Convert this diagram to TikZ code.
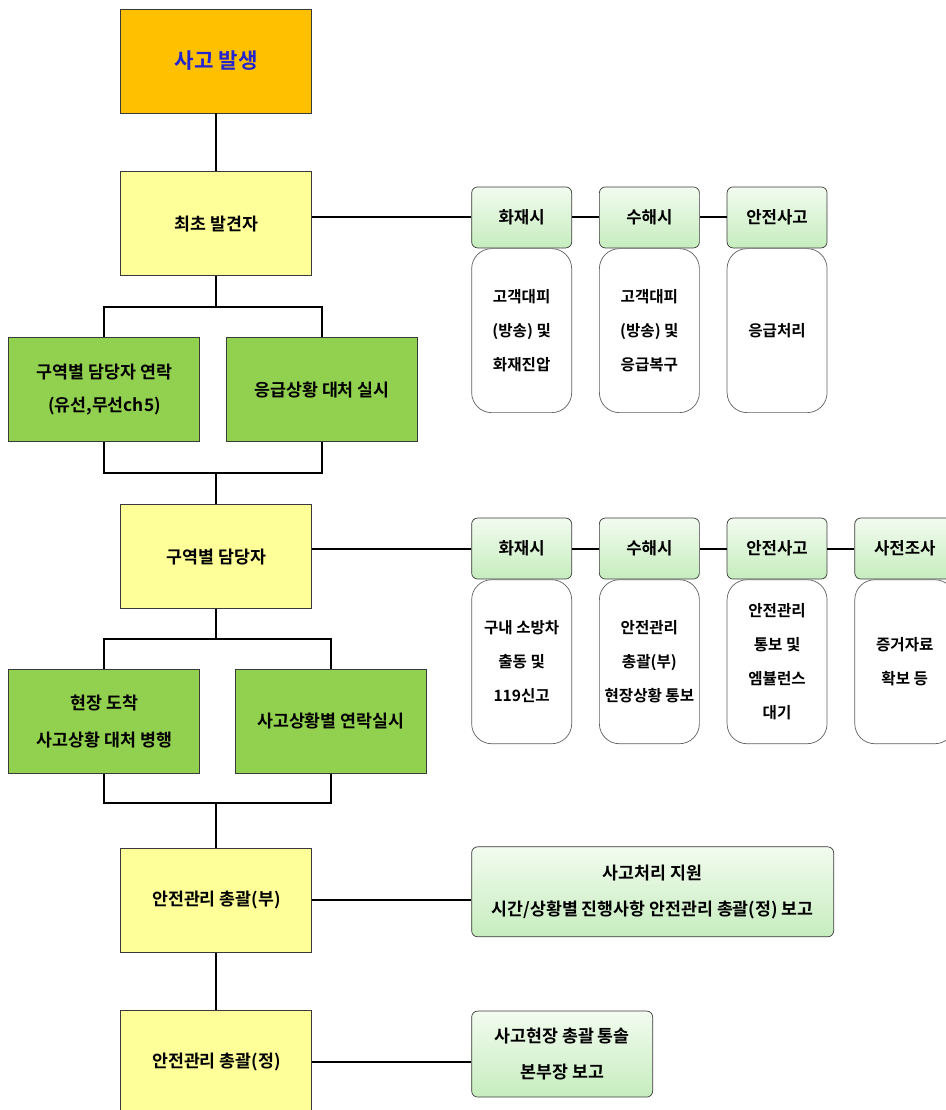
\documentclass[tikz,border=0pt]{standalone}
\usepackage{fontspec}
\setmainfont{Noto Sans CJK KR Bold}
\usetikzlibrary{positioning}
\definecolor{alarmorange}{HTML}{FFC000}
\definecolor{roleyellow}{HTML}{FFFF99}
\definecolor{actgreen}{HTML}{92D050}
\definecolor{tabtop}{HTML}{F2FBEF}
\definecolor{tabbottom}{HTML}{C6EDBE}
\definecolor{titleblue}{HTML}{2424D0}
\definecolor{edgegray}{HTML}{3A3A3A}

\begin{document}
\begin{tikzpicture}[
  node distance=15mm and 6.75mm,
  every node/.style={align=center, inner sep=1pt, font=\fontsize{12.3}{24}\selectfont},
  role/.style={draw=edgegray, fill=roleyellow, minimum width=47.75mm, minimum height=26mm, line width=0.6pt},
  act/.style={role, fill=actgreen},
  tab/.style={draw=edgegray, rounded corners=1.5mm, top color=tabtop, bottom color=tabbottom,
              minimum width=25mm, minimum height=15.25mm, line width=0.5pt, font=\fontsize{11.9}{24}\selectfont},
  card/.style={draw=edgegray!80, rounded corners=5mm, fill=white, minimum width=25mm, minimum height=41mm,
               line width=0.5pt, font=\fontsize{11.1}{24}\selectfont},
  wire/.style={line width=1.4pt, color=black},
]
  \useasboundingbox (0,0) rectangle (236.25mm,-277.5mm);

  % main column
  \node[role, fill=alarmorange, text=titleblue, font=\fontsize{15.1}{20}\selectfont] (accident) at (54.1mm,-15.25mm) {사고 발생};
  \node[role, below=14.5mm of accident] (finder) {최초 발견자};
  \node[act, below=15.25mm of finder, xshift=-28mm] (callzone) {구역별 담당자 연락\\(유선,무선ch5)};
  \node[act, below=15.25mm of finder, xshift=26.4mm] (firstaid) {응급상황 대처 실시};
  \node[role, below=15.5mm of callzone, xshift=28mm] (zonemgr) {구역별 담당자};
  \node[act, below=15mm of zonemgr, xshift=-28mm, font=\fontsize{12.3}{26}\selectfont] (arrive) {현장 도착\\사고상황 대처 병행};
  \node[act, below=15mm of zonemgr, xshift=28.6mm] (notify) {사고상황별 연락실시};
  \node[role, below=18.5mm of arrive, xshift=28mm] (vice) {안전관리 총괄(부)};
  \node[role, below=14.25mm of vice] (chief) {안전관리 총괄(정)};

  % first finder cases
  \node[tab, right=39.75mm of finder, yshift=1.6mm] (fire1) {화재시};
  \node[tab, right=of fire1] (flood1) {수해시};
  \node[tab, right=of flood1] (safety1) {안전사고};
  \node[card, below=0pt of fire1] (fire1do) {고객대피\\(방송) 및\\화재진압};
  \node[card, below=0pt of flood1] (flood1do) {고객대피\\(방송) 및\\응급복구};
  \node[card, below=0pt of safety1] (safety1do) {응급처리};

  % zone manager cases
  \node[tab, right=39.75mm of zonemgr, yshift=2mm] (fire2) {화재시};
  \node[tab, right=of fire2] (flood2) {수해시};
  \node[tab, right=of flood2] (safety2) {안전사고};
  \node[tab, right=of safety2] (survey2) {사전조사};
  \node[card, below=0pt of fire2] (fire2do) {구내 소방차\\출동 및\\119신고};
  \node[card, below=0pt of flood2] (flood2do) {안전관리\\총괄(부)\\현장상황 통보};
  \node[card, below=0pt of safety2] (safety2do) {안전관리\\통보 및\\엠뷸런스\\대기};
  \node[card, below=0pt of survey2] (survey2do) {증거자료\\확보 등};

  % reports
  \node[tab, right=39.75mm of vice, yshift=2.1mm, minimum width=90.5mm, minimum height=22.5mm,
        font=\fontsize{12.3}{26}\selectfont] (support) {사고처리 지원\\시간/상황별 진행사항 안전관리 총괄(정) 보고};
  \node[tab, right=39.75mm of chief, yshift=2mm, minimum width=45.25mm, minimum height=21.5mm,
        font=\fontsize{12.3}{26}\selectfont] (report) {사고현장 총괄 통솔\\본부장 보고};

  \draw[wire] (accident) -- (finder);
  \draw[wire] (finder.south) -- ++(0,-7.75mm) coordinate (fork1);
  \draw[wire] (callzone.north) |- (fork1) -| (firstaid.north);
  \draw[wire] (zonemgr.north) -- ++(0,7.75mm) coordinate (join1);
  \draw[wire] (callzone.south) |- (join1) -| (firstaid.south);
  \draw[wire] (zonemgr.south) -- ++(0,-7.5mm) coordinate (fork2);
  \draw[wire] (arrive.north) |- (fork2) -| (notify.north);
  \draw[wire] (vice.north) -- ++(0,11.25mm) coordinate (join2);
  \draw[wire] (arrive.south) |- (join2) -| (notify.south);
  \draw[wire] (vice) -- (chief);

  \draw[wire] (finder.east |- fire1.west) -- (fire1.west);
  \draw[wire] (fire1) -- (flood1);
  \draw[wire] (flood1) -- (safety1);
  \draw[wire] (zonemgr.east |- fire2.west) -- (fire2.west);
  \draw[wire] (fire2) -- (flood2);
  \draw[wire] (flood2) -- (safety2);
  \draw[wire] (safety2) -- (survey2);
  \draw[wire] (vice.east) -- (vice.east -| support.west);
  \draw[wire] (chief.east) -- (chief.east -| report.west);
\end{tikzpicture}
\end{document}
